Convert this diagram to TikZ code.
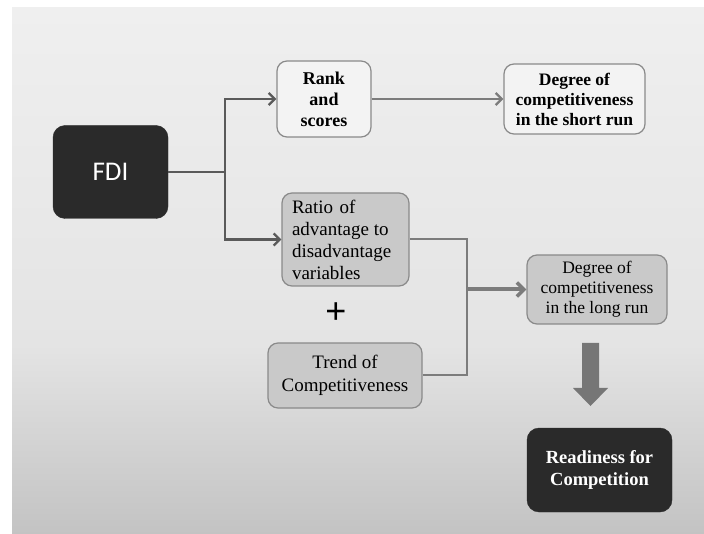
\documentclass[tikz,border=0pt]{standalone}
\usepackage{fontspec}
\setmainfont{Liberation Serif}
\newfontfamily\fdifont{Carlito}
\newfontfamily\plusfont{Liberation Sans}
\usetikzlibrary{arrows.meta,positioning}
\definecolor{bgtop}{HTML}{EFEFEF}
\definecolor{bgmid}{HTML}{E4E4E4}
\definecolor{bgbot}{HTML}{C3C3C3}
\definecolor{darkbox}{HTML}{2A2A2A}
\definecolor{lightbox}{HTML}{F3F3F3}
\definecolor{greybox}{HTML}{C9C9C9}
\definecolor{boxline}{HTML}{8A8A8A}
\definecolor{conndark}{HTML}{5A5A5A}
\definecolor{connlight}{HTML}{7C7C7C}
\definecolor{bigarrow}{HTML}{767676}
\begin{document}
\begin{tikzpicture}[x=1pt,y=-1pt,
  boxbase/.style={rounded corners=10pt, inner sep=4pt, align=center},
  darknode/.style={boxbase, fill=darkbox, draw=darkbox, text=white},
  lightnode/.style={boxbase, fill=lightbox, draw=boxline, line width=1.2pt},
  greynode/.style={boxbase, fill=greybox, draw=boxline, line width=1.2pt},
  conn/.style={draw=conndark, line width=2.6pt},
  connthin/.style={draw=connlight, line width=2pt},
  barb/.style={-{Straight Barb[length=6pt,width=12pt,line width=2.4pt]}},
]
\useasboundingbox (0,0) rectangle (704,534);
\fill[white] (0,0) rectangle (704,534);
\shade[top color=bgtop, bottom color=bgmid] (12,8) rectangle (704,345);
\shade[top color=bgmid, bottom color=bgbot] (12,344.5) rectangle (704,534);

% nodes
\node[darknode, minimum width=115pt, minimum height=93pt, rounded corners=12pt,
      font=\fdifont\fontsize{27}{30}\selectfont] (fdi) at (110.5,172) {FDI};
\node[lightnode, minimum width=94pt, minimum height=76pt,
      font=\bfseries\fontsize{18}{21}\selectfont] (rank) at (324,99) {Rank\\and\\scores};
\node[lightnode, minimum width=141pt, minimum height=70pt,
      font=\bfseries\fontsize{17.5}{20}\selectfont] (short) at (574.5,99)
      {Degree of\\competitiveness\\in the short run};
\node[greynode, minimum width=127pt, minimum height=93pt, inner sep=0pt,
      text width=107pt, align=left,
      font=\fontsize{19}{22}\selectfont] (ratio) at (345.5,239.5)
      {Ratio of\\advantage\hspace{-1.5pt} to\\disadvantage\\variables};
\node[font=\plusfont\fontsize{36}{36}\selectfont, inner sep=0pt] (plus) at (336,313) {+};
\node[greynode, minimum width=154pt, minimum height=65pt,
      font=\fontsize{19}{23}\selectfont] (trend) at (345,375.5)
      {Trend of\\Competitiveness};
\node[greynode, minimum width=140pt, minimum height=69pt,
      font=\fontsize{17.5}{20}\selectfont] (long) at (597,289.5)
      {Degree of\\competitiveness\\in the long run};
\node[darknode, minimum width=145pt, minimum height=84pt, rounded corners=12pt,
      font=\bfseries\fontsize{18.5}{22}\selectfont] (ready) at (599.5,470)
      {Readiness for\\Competition};

% connectors
\coordinate (jn) at (225,172);
\draw[conn] (fdi.east) -- (jn);
\draw[conn,barb] (jn) |- (rank.west);
\draw[conn,barb] (jn) |- (ratio.west);
\draw[connthin, line width=2.6pt, barb] (rank.east) -- (short.west);

\coordinate (mj) at (467,289.5);
\draw[connthin] (ratio.east) -| (mj);
\draw[connthin] (trend.east) -| (mj);
\draw[draw=connlight, line width=4pt,
      -{Straight Barb[length=7pt,width=14pt,line width=3.5pt]}] (mj) -- (long.west);

% big down arrow
\fill[bigarrow] (582,343) -- (599,343) -- (599,388) -- (608,388) -- (590.5,406)
      -- (573,388) -- (582,388) -- cycle;
\end{tikzpicture}
\end{document}
